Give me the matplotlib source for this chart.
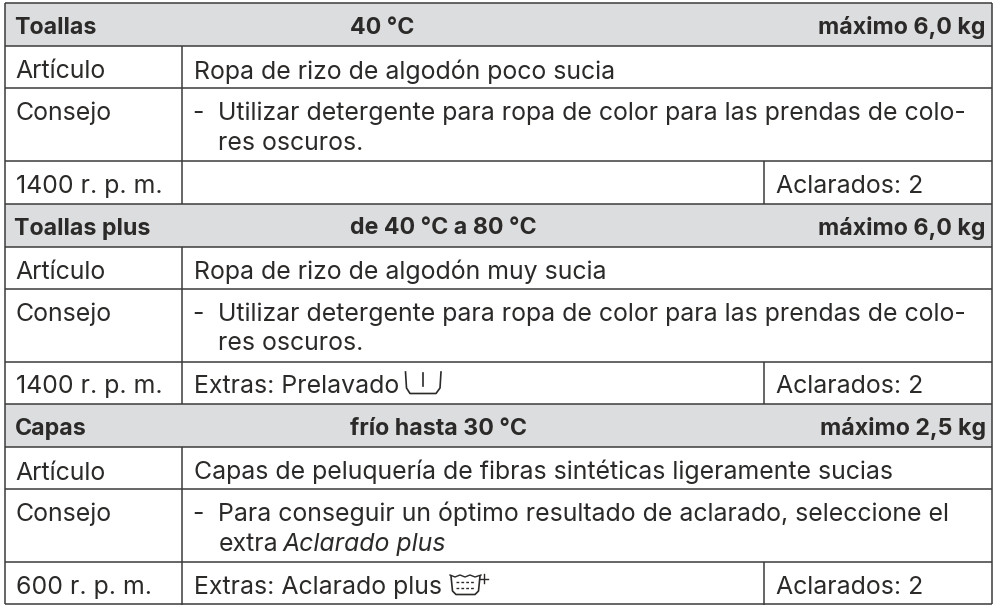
import matplotlib
matplotlib.use("Agg")
import matplotlib.pyplot as plt
from matplotlib.patches import Rectangle

FONT = "Inter"
INK = "#2b2a29"
LINE = "#3c3c3c"
HEADER_BG = "#dcddde"
BODY_SIZE = 17.9
HEAD_SIZE = 16.7

names = ["Toallas", "Toallas plus", "Capas"]
temps = ["40 °C", "de 40 °C a 80 °C", "frío hasta 30 °C"]
loads = ["máximo 6,0 kg", "máximo 6,0 kg", "máximo 2,5 kg"]
articulos = ["Ropa de rizo de algodón poco sucia",
             "Ropa de rizo de algodón muy sucia",
             "Capas de peluquería de fibras sintéticas ligeramente sucias"]
consejo_1 = ["Utilizar detergente para ropa de color para las prendas de colo-",
             "Utilizar detergente para ropa de color para las prendas de colo-",
             "Para conseguir un óptimo resultado de aclarado, seleccione el"]
consejo_2 = ["res oscuros.", "res oscuros.", "extra"]
speeds = ["1400 r. p. m.", "1400 r. p. m.", "600 r. p. m."]
extras = ["", "Extras: Prelavado", "Extras: Aclarado plus"]
rinses = ["Aclarados: 2", "Aclarados: 2", "Aclarados: 2"]

tops = [3, 203.5, 404]
left, right, col1, col2 = 5, 991.5, 182, 764

fig = plt.figure(figsize=(9.99, 6.06), dpi=100, facecolor="white")
ax = fig.add_axes([0, 0, 1, 1])
ax.set_xlim(0, 999)
ax.set_ylim(606, 0)
ax.axis("off")

def body(x, y, s, **kw):
    ax.text(x, y, s, family=FONT, fontsize=BODY_SIZE, color=INK, va="baseline", **kw)

def head(x, y, s, **kw):
    ax.text(x, y, s, family=FONT, fontsize=HEAD_SIZE, weight="bold", color=INK, va="baseline", **kw)

def hline(y, x0=left, x1=right):
    ax.plot([x0, x1], [y, y], color=LINE, lw=1.1, solid_capstyle="butt")

def vline(x, y0, y1):
    ax.plot([x, x], [y0, y1], color=LINE, lw=1.1, solid_capstyle="butt")

for i, t in enumerate(tops):
    ax.add_patch(Rectangle((left, t), right - left, 43, fc=HEADER_BG, ec="none"))
    head(14.5, t + 31, names[i])
    head(349.5, t + 31, temps[i])
    head(986, t + 31, loads[i], ha="right")
    body(15.5, t + 75.5, "Artículo")
    body(193.5, t + 75.5, articulos[i])
    body(15.5, t + 117, "Consejo")
    body(192.5, t + 117, "-")
    body(218.5, t + 117, consejo_1[i])
    body(218.5, t + 147, consejo_2[i])
    if i == 2:
        body(283, t + 147, "Aclarado plus", style="italic")
    body(15.5, t + 189.7, speeds[i])
    body(193.5, t + 189.7, extras[i])
    body(775.5, t + 189.7, rinses[i])
    hline(t)
    hline(t + 43)
    hline(t + 85)
    hline(t + 158)
    vline(col1, t + 43, t + 200.5)
    vline(col2, t + 158, t + 200.5)
hline(604)
vline(left, 3, 604)
vline(right, 3, 604)

# Prelavado symbol
ax.plot([405.5, 406.5, 410, 436, 440, 441], [372, 388, 393.5, 393.5, 388, 372], color=INK, lw=1.2)
ax.plot([423, 423], [373, 386], color=INK, lw=1.2)
# Aclarado plus symbol
ax.plot([451, 452.5, 456, 475, 478.5, 480], [576, 591, 594.5, 594.5, 591, 576], color=INK, lw=1.2)
ax.plot([450, 455, 460, 465, 470, 475, 481], [575, 577, 575, 577, 575, 577, 575], color=INK, lw=1.0)
for y in (582, 588):
    ax.plot([456, 475], [y, y], color=INK, lw=1.0, ls=(0, (2, 1.5)))
ax.plot([484, 484], [574, 583], color=INK, lw=1.0)
ax.plot([480, 488], [578.5, 578.5], color=INK, lw=1.0)

fig.savefig("out.png", dpi=100)
